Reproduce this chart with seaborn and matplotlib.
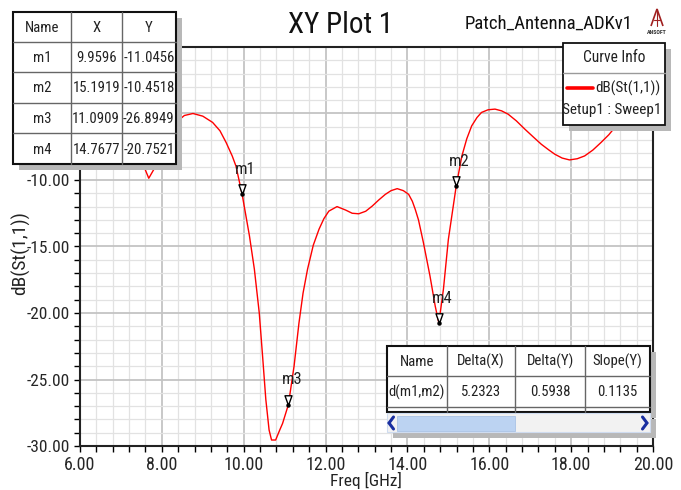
import matplotlib
matplotlib.use("Agg")
import numpy as np
import pandas as pd
import seaborn as sns
import matplotlib.pyplot as plt
import matplotlib.font_manager as fm
from matplotlib.patches import Rectangle, Polygon
from matplotlib.lines import Line2D
from matplotlib.path import Path
from matplotlib.markers import MarkerStyle
from matplotlib.ticker import MultipleLocator, FixedLocator
from matplotlib.transforms import Affine2D

# ---------------- data ----------------
freq = [6.0, 6.4, 6.8, 7.1, 7.3, 7.45, 7.53, 7.68, 7.89, 8.05, 8.2, 8.38, 8.55,
        8.76, 9.0, 9.24, 9.42, 9.57, 9.72, 9.81, 9.9596, 10.14, 10.26, 10.38,
        10.46, 10.54, 10.62, 10.68, 10.78, 10.88, 10.95, 11.0909, 11.23, 11.35,
        11.45, 11.56, 11.7, 11.84, 11.96, 12.08, 12.28, 12.49, 12.65, 12.81,
        12.98, 13.14, 13.3, 13.46, 13.6, 13.75, 13.9, 14.03, 14.12, 14.19,
        14.27, 14.39, 14.55, 14.68, 14.7677, 14.88, 15.0, 15.1919, 15.33,
        15.45, 15.57, 15.7, 15.81, 15.97, 16.14, 16.3, 16.46, 16.66, 16.87,
        17.07, 17.27, 17.45, 17.6, 17.78, 17.96, 18.15, 18.33, 18.53, 18.73,
        18.92, 19.1, 19.4, 19.7, 20.0]
s11_db = [-2.6, -2.9, -3.6, -4.6, -5.8, -7.6, -8.74, -9.87, -8.74, -7.3, -6.3,
          -5.58, -5.15, -5.0, -5.2, -5.67, -6.3, -7.18, -8.2, -8.95, -11.0456,
          -14.2, -16.7, -20.0, -23.2, -26.5, -28.8, -29.55, -29.55, -28.8,
          -28.3, -26.8949, -24.0, -20.75, -18.5, -16.7, -14.9, -13.7, -12.9,
          -12.34, -12.0, -12.26, -12.5, -12.54, -12.35, -11.96, -11.5, -11.08,
          -10.8, -10.65, -10.8, -11.08, -11.6, -12.2, -13.0, -14.7, -17.2,
          -19.5, -20.7521, -18.2, -14.47, -10.4518, -8.2, -6.9, -5.93, -5.3,
          -4.92, -4.72, -4.67, -4.8, -5.05, -5.55, -6.18, -6.75, -7.31, -7.73,
          -8.06, -8.35, -8.49, -8.4, -8.19, -7.75, -7.18, -6.6, -5.93, -4.9,
          -3.9, -2.9]

marker_names = ["m1", "m2", "m3", "m4"]
marker_x = [9.9596, 15.1919, 11.0909, 14.7677]
marker_y = [-11.0456, -10.4518, -26.8949, -20.7521]

x_ticks = [6, 8, 10, 12, 14, 16, 18, 20]
y_ticks = [-30, -25, -20, -15, -10, -5, 0]

title = "XY Plot 1"
project = "Patch_Antenna_ADKv1"
x_label = "Freq [GHz]"
y_label = "dB(St(1,1))"
trace_name = "dB(St(1,1))"
setup_name = "Setup1 : Sweep1"

# ---------------- style ----------------
sns.set_theme(style="white")

# pick a condensed sans face if one is installed, otherwise Liberation Sans
FONT, K = "Liberation Sans", 0.84
_names = {f.name for f in fm.fontManager.ttflist}
for cand in ["Liberation Sans Narrow", "Roboto Condensed", "Open Sans Condensed",
             "DejaVu Sans Condensed", "Noto Sans Condensed"]:
    if cand in _names:
        FONT, K = cand, 1.0
        break

plt.rcParams["font.family"] = [FONT, "DejaVu Sans"]
plt.rcParams["axes.unicode_minus"] = False


def fs(n):
    return n * K


W, H = 681, 490
fig = plt.figure(figsize=(W / 100, H / 100), dpi=100)
fig.patch.set_facecolor("white")
pix = Affine2D().scale(1 / W, -1 / H).translate(0, 1) + fig.transFigure

ax_l, ax_r, ax_t, ax_b = 80, 653, 47, 446
ax = fig.add_axes([ax_l / W, 1 - ax_b / H, (ax_r - ax_l) / W, (ax_b - ax_t) / H])

df = pd.DataFrame({"Freq": freq, "dB": s11_db})
sns.lineplot(data=df, x="Freq", y="dB", ax=ax, color="#ff0000", lw=1.0,
             sort=False, estimator=None, zorder=3)
ax.set_xlim(6, 20)
ax.set_ylim(-30, 0)

ax.xaxis.set_major_locator(FixedLocator(x_ticks))
ax.yaxis.set_major_locator(FixedLocator(y_ticks))
ax.xaxis.set_minor_locator(MultipleLocator(0.4))
ax.yaxis.set_minor_locator(MultipleLocator(1))
ax.set_xticklabels([f"{v:.2f}" for v in x_ticks], fontsize=fs(13))
# the -5.00 and 0.00 labels sit under the marker table in the reference
ax.set_yticklabels([f"{v:.2f}" if v <= -10 else "" for v in y_ticks], fontsize=fs(12.5))
ax.grid(which="major", color="#c4c4c4", lw=1.3)
ax.grid(which="minor", color="#e2e2e2", lw=0.9)
ax.set_axisbelow(True)
ax.tick_params(which="both", direction="out", length=4, width=1, color="black",
               left=True, bottom=True, pad=3)
for sp in ax.spines.values():
    sp.set_color("#222222")
    sp.set_linewidth(1.5)
ax.set_xlabel("")
ax.set_ylabel("")

# markers
tri = Path([(0, 0), (-0.36, 1.0), (0.36, 1.0), (0, 0)],
           [Path.MOVETO, Path.LINETO, Path.LINETO, Path.CLOSEPOLY])
ax.plot(marker_x, marker_y, linestyle="none", marker=MarkerStyle(tri), ms=14,
        mfc="white", mec="black", mew=1.0, zorder=5)
ax.plot(marker_x, marker_y, linestyle="none", marker="o", ms=2.2,
        mfc="black", mec="black", zorder=6)
for n, mx, my in zip(marker_names, marker_x, marker_y):
    ax.annotate(n, (mx, my), xytext=(-5, 12.5), textcoords="offset points",
                ha="left", va="bottom", fontsize=fs(12), color="#222222", zorder=7)

# ---------------- figure texts ----------------
fig.text(340.5, 33.3, title, transform=pix, ha="center", va="baseline",
         fontsize=fs(21), color="#111111")
fig.text(633, 28.3, project, transform=pix, ha="right", va="baseline",
         fontsize=fs(13.5), color="#111111")
fig.text(20.5, 253, y_label, transform=pix, ha="center", va="center",
         rotation=90, fontsize=fs(14), color="#222222")
fig.text(366, 480, x_label, transform=pix, ha="center", va="center",
         fontsize=fs(12.5), color="#222222")

# ANSOFT logo
fig.add_artist(Polygon([(651, 26), (657, 9), (663, 26)], closed=False,
                       transform=pix, fill=False, edgecolor="#a02020", lw=1.2))
fig.add_artist(Line2D([657, 657], [9, 26], transform=pix, color="#a02020", lw=0.8))
fig.add_artist(Line2D([654, 660], [20, 20], transform=pix, color="#a02020", lw=0.8))
fig.text(657, 33, "ANSOFT", transform=pix, ha="center", va="center",
         fontsize=4.2, fontweight="bold", color="#333333")


def rect(x0, y0, x1, y1, **kw):
    fig.add_artist(Rectangle((x0, y0), x1 - x0, y1 - y0, transform=pix, **kw))


def hline(x0, x1, y, **kw):
    fig.add_artist(Line2D([x0, x1], [y, y], transform=pix, **kw))


def vline(x, y0, y1, **kw):
    fig.add_artist(Line2D([x, x], [y0, y1], transform=pix, **kw))


def table(cols, rows, cells, size):
    x0, x1, y0, y1 = cols[0], cols[-1], rows[0], rows[-1]
    rect(x0 + 6, y0 + 6, x1 + 6, y1 + 6, facecolor="#b8b8b8", edgecolor="none")
    rect(x0, y0, x1, y1, facecolor="white", edgecolor="none")
    for c in cols[1:-1]:
        vline(c, y0, y1, color="#666666", lw=1.0)
    for r in rows[1:-1]:
        hline(x0, x1, r, color="#666666", lw=1.0)
    rect(x0, y0, x1, y1, facecolor="none", edgecolor="#111111", lw=1.5)
    for i, row in enumerate(cells):
        for j, s in enumerate(row):
            fig.text((cols[j] + cols[j + 1]) / 2, (rows[i] + rows[i + 1]) / 2 + 1, s,
                     transform=pix, ha="center", va="center", fontsize=size,
                     color="#222222")


TS = 10.6 if K == 1.0 else 9.2

# marker table (top-left)
mk_cells = [["Name", "X", "Y"]] + [
    [n, f"{x:.4f}", f"{y:.4f}"] for n, x, y in zip(marker_names, marker_x, marker_y)]
table([13.3, 70.7, 121.7, 176], [11.7, 41.7, 71.7, 102.7, 133.3, 164], mk_cells, TS)

# curve info box
rect(568.7, 49.3, 671, 131, facecolor="#b8b8b8", edgecolor="none")
rect(562.7, 43.3, 665, 125, facecolor="white", edgecolor="#111111", lw=1.3)
hline(562.7, 665, 73.3, color="#9a9a9a", lw=1.0)
fig.text(613.8, 58, "Curve Info", transform=pix, ha="center", va="center",
         fontsize=TS + 0.6, color="#222222")
hline(566.7, 593.3, 88.3, color="#ff0000", lw=2.6)
fig.text(660, 88.3, trace_name, transform=pix, ha="right", va="center",
         fontsize=TS + 0.3, color="#222222")
fig.text(612, 110, setup_name, transform=pix, ha="center", va="center",
         fontsize=TS + 0.3, color="#222222")

# delta table (bottom-right)
dx = marker_x[1] - marker_x[0]
dy = marker_y[1] - marker_y[0]
slope = dy / dx
d_cells = [["Name", "Delta(X)", "Delta(Y)", "Slope(Y)"],
           [f"d({marker_names[0]},{marker_names[1]})", f"{dx:.4f}", f"{dy:.4f}", f"{slope:.4f}"],
           ["", "", "", ""]]
table([386.7, 446.7, 515, 585, 650], [346, 375.5, 406.7, 411.7], d_cells, TS)
# scrollbar
rect(392.7, 419, 656, 438, facecolor="#b8b8b8", edgecolor="none")
rect(386.7, 413, 650, 432, facecolor="#f2f2f2", edgecolor="#cfdcf0", lw=0.8)
rect(396.7, 415.5, 515, 431, facecolor="#bcd3f2", edgecolor="#a9c2e6", lw=0.6)
fig.add_artist(Line2D([393.5, 389, 393.5], [417, 423, 429], transform=pix,
                      color="#1a2fa0", lw=2.2, solid_joinstyle="miter"))
fig.add_artist(Line2D([642.5, 647, 642.5], [417, 423, 429], transform=pix,
                      color="#1a2fa0", lw=2.2, solid_joinstyle="miter"))

fig.savefig("out.png", dpi=100, facecolor="white")
